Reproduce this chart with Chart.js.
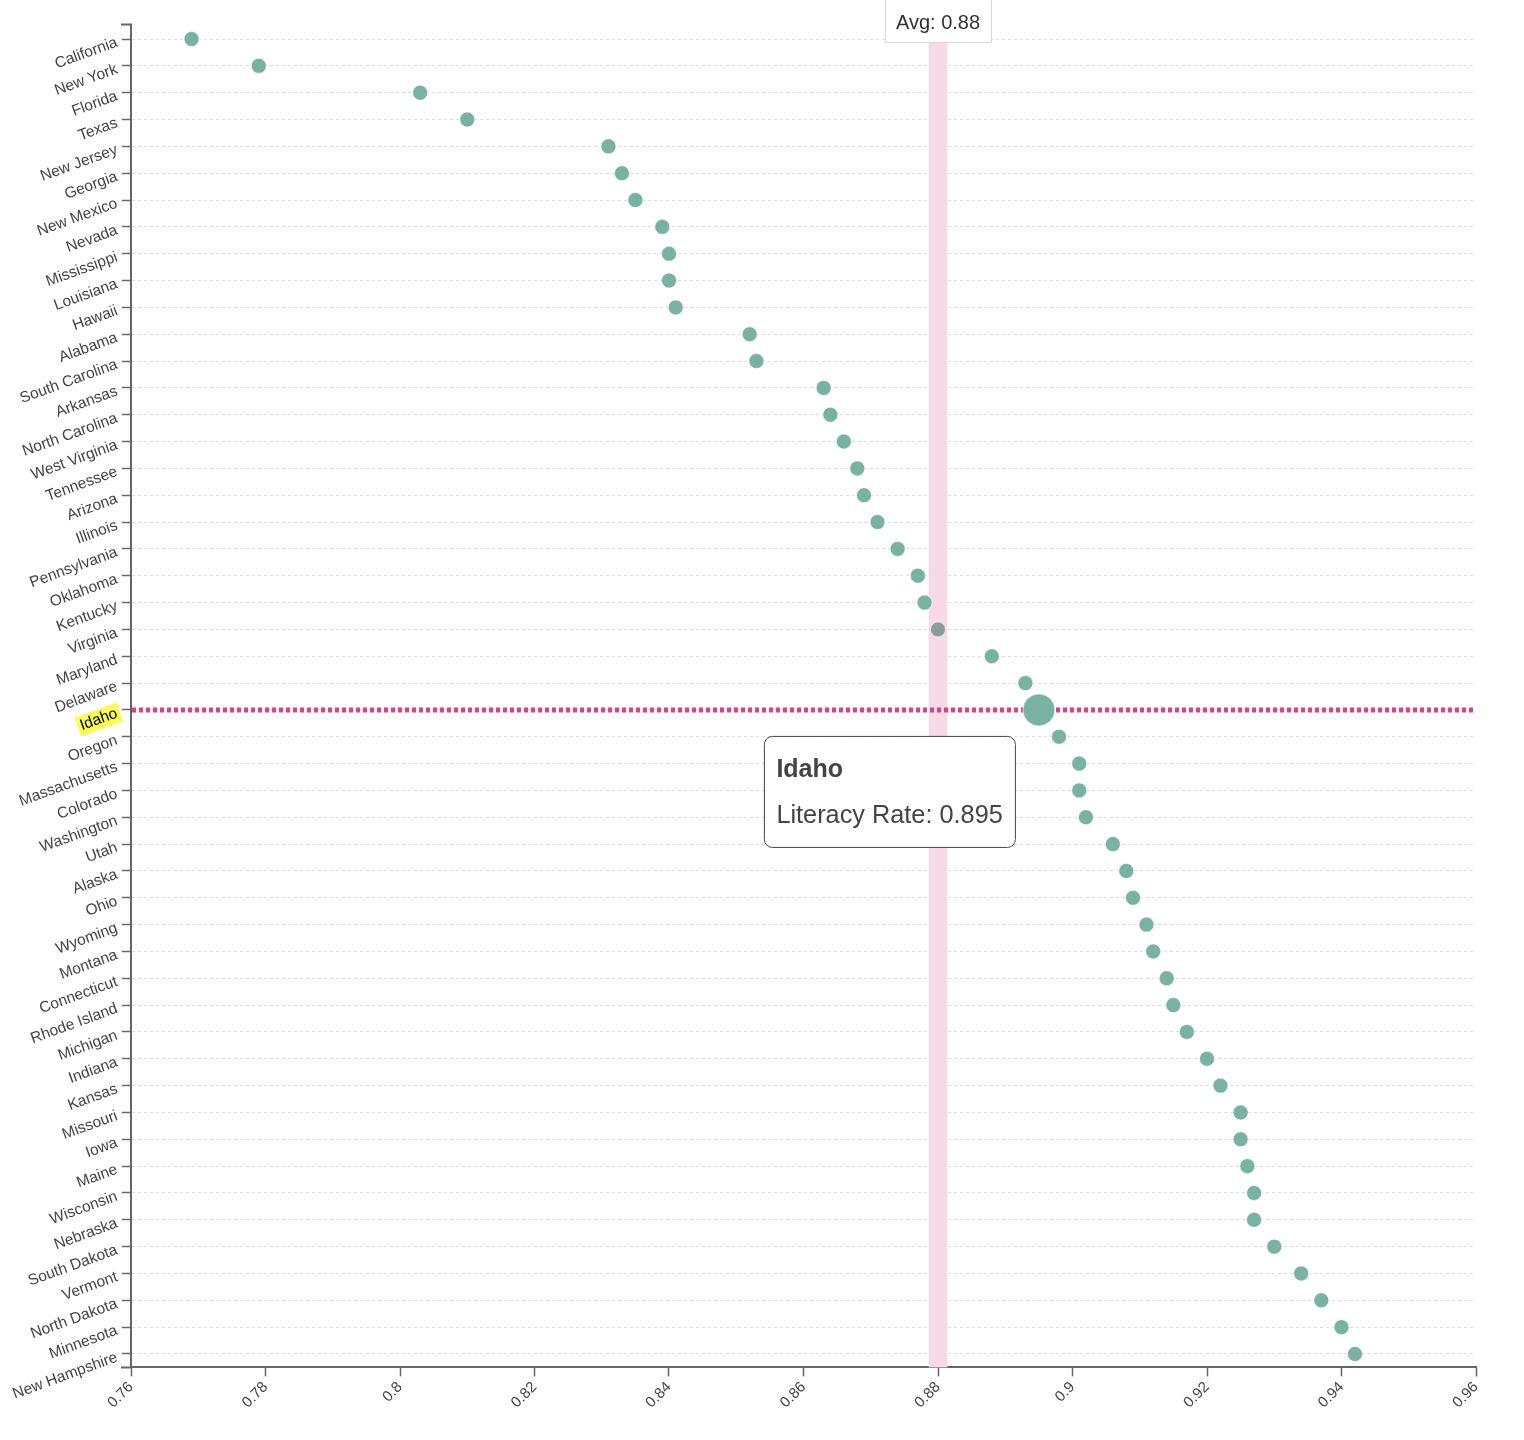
<!DOCTYPE html>
<html>
<head>
<meta charset="utf-8">
<title>Literacy Rate by State</title>
<script src="https://cdn.jsdelivr.net/npm/chart.js@4.4.1/dist/chart.umd.min.js"></script>
<style>
  html, body { margin: 0; padding: 0; background: #fff; }
  #wrap { width: 1524px; height: 1440px; position: relative; }
</style>
</head>
<body>
<div id="wrap"><canvas id="chart"></canvas></div>
<script>
// states, sorted from lowest to highest literacy rate
const states = [
  "California", "New York", "Florida", "Texas", "New Jersey", "Georgia", "New Mexico",
  "Nevada", "Mississippi", "Louisiana", "Hawaii", "Alabama", "South Carolina", "Arkansas",
  "North Carolina", "West Virginia", "Tennessee", "Arizona", "Illinois", "Pennsylvania",
  "Oklahoma", "Kentucky", "Virginia", "Maryland", "Delaware", "Idaho", "Oregon",
  "Massachusetts", "Colorado", "Washington", "Utah", "Alaska", "Ohio", "Wyoming", "Montana",
  "Connecticut", "Rhode Island", "Michigan", "Indiana", "Kansas", "Missouri", "Iowa",
  "Maine", "Wisconsin", "Nebraska", "South Dakota", "Vermont", "North Dakota", "Minnesota",
  "New Hampshire"
];

const literacyRates = [
  0.769, 0.779, 0.803, 0.810, 0.831, 0.833, 0.835,
  0.839, 0.840, 0.840, 0.841, 0.852, 0.853, 0.863,
  0.864, 0.866, 0.868, 0.869, 0.871, 0.874,
  0.877, 0.878, 0.880, 0.888, 0.893, 0.895, 0.898,
  0.901, 0.901, 0.902, 0.906, 0.908, 0.909, 0.911, 0.912,
  0.914, 0.915, 0.917, 0.920, 0.922, 0.925, 0.925,
  0.926, 0.927, 0.927, 0.930, 0.934, 0.937, 0.940,
  0.942
];

const xTicks = [0.76, 0.78, 0.8, 0.82, 0.84, 0.86, 0.88, 0.9, 0.92, 0.94, 0.96];

const avgRate = 0.88;
const highlightState = "Idaho";
const nearAvgState = "Virginia";

const dotColor = "#79b2a2";
const greyDot = "#8b9d9b";
const pink = "#d9418a";
const labelFont = "'Liberation Sans', Arial, Helvetica, sans-serif";
const yLabelSize = 15.5;
const yLabelShift = 3;

const overlayPlugin = {
  id: 'overlayPlugin',
  beforeDraw(chart) {
    // yellow marker behind the highlighted tick label
    const ctx = chart.ctx;
    const yScale = chart.scales.y;
    const idx = states.indexOf(highlightState);
    const y = yScale.getPixelForValue(idx) + yLabelShift;
    const x = yScale.right - 9 - 5;
    ctx.save();
    ctx.font = yLabelSize + "px " + labelFont;
    const w = ctx.measureText(highlightState).width;
    ctx.translate(x, y);
    ctx.rotate(-20 * Math.PI / 180);
    ctx.fillStyle = "#fbfb57";
    ctx.fillRect(-w - 3, -10, w + 6, 20);
    ctx.restore();
  },
  beforeDatasetsDraw(chart) {
    const ctx = chart.ctx;
    const area = chart.chartArea;
    const xScale = chart.scales.x;
    const yScale = chart.scales.y;

    // average band
    const ax = xScale.getPixelForValue(avgRate);
    ctx.save();
    ctx.fillStyle = "#f8d9e8";
    ctx.fillRect(ax - 9.3, area.top, 18.6, area.bottom - area.top);

    // dotted line on the highlighted state
    const hy = yScale.getPixelForValue(states.indexOf(highlightState));
    ctx.beginPath();
    ctx.moveTo(area.left + 1, hy);
    ctx.lineTo(area.right, hy);
    ctx.lineWidth = 5;
    ctx.strokeStyle = pink;
    ctx.setLineDash([4, 3]);
    ctx.stroke();
    ctx.restore();
  },
  afterDraw(chart) {
    const ctx = chart.ctx;
    const area = chart.chartArea;
    const xScale = chart.scales.x;
    const yScale = chart.scales.y;

    // outer ticks at both ends of the y axis
    ctx.save();
    ctx.strokeStyle = "#666";
    ctx.lineWidth = 2;
    ctx.beginPath();
    ctx.moveTo(area.left - 10, area.top - 1);
    ctx.lineTo(area.left + 1, area.top - 1);
    ctx.moveTo(area.left - 10, area.bottom);
    ctx.lineTo(area.left, area.bottom);
    ctx.stroke();
    ctx.restore();

    // average label
    const ax = xScale.getPixelForValue(avgRate);
    ctx.save();
    ctx.fillStyle = "#fff";
    ctx.strokeStyle = "#d8d8d8";
    ctx.lineWidth = 1;
    ctx.fillRect(ax - 53, -4, 106, 46);
    ctx.strokeRect(ax - 52.5, -4, 106, 46.5);
    ctx.fillStyle = "#333";
    ctx.font = "20px " + labelFont;
    ctx.textAlign = "center";
    ctx.textBaseline = "middle";
    ctx.fillText("Avg: " + avgRate, ax, 23);
    ctx.restore();

    // static tooltip for the highlighted state
    const idx = states.indexOf(highlightState);
    const px = xScale.getPixelForValue(literacyRates[idx]);
    const py = yScale.getPixelForValue(idx);
    const left = px - 274.5, top = py + 26.5, w = 251, h = 111;
    ctx.save();
    ctx.beginPath();
    ctx.roundRect(left, top, w, h, 8);
    ctx.fillStyle = "#fff";
    ctx.fill();
    ctx.strokeStyle = "#444";
    ctx.lineWidth = 1;
    ctx.stroke();
    ctx.fillStyle = "#444";
    ctx.textAlign = "left";
    ctx.textBaseline = "middle";
    ctx.font = "bold 25px " + labelFont;
    ctx.fillText(highlightState, left + 12, top + 34);
    ctx.font = "25.3px " + labelFont;
    ctx.fillText("Literacy Rate: " + literacyRates[idx], left + 12, top + 80);
    ctx.restore();
  }
};

const pointColors = states.map(s => s === nearAvgState ? greyDot : dotColor);
const pointSizes = states.map(s => s === highlightState ? 16 : 7.5);

new Chart(document.getElementById("chart"), {
  type: "scatter",
  data: {
    datasets: [{
      label: "Literacy Rate",
      data: states.map((s, i) => ({ x: literacyRates[i], y: s })),
      pointBackgroundColor: pointColors,
      pointBorderColor: "rgba(255,255,255,0.6)",
      pointBorderWidth: 1,
      pointRadius: pointSizes
    }]
  },
  options: {
    responsive: true,
    maintainAspectRatio: false,
    animation: false,
    events: [],
    layout: {
      padding: { left: 0, right: 48, top: 25.6, bottom: 0 }
    },
    plugins: {
      legend: { display: false },
      tooltip: { enabled: false }
    },
    scales: {
      x: {
        type: "linear",
        min: 0.76,
        max: 0.96,
        afterFit: (scale) => { scale.height = 72.6; },
        afterBuildTicks: (scale) => { scale.ticks = xTicks.map(v => ({ value: v })); },
        ticks: {
          minRotation: 45,
          maxRotation: 45,
          padding: 2,
          color: "#444",
          font: { family: labelFont, size: 15 },
          callback: (v) => String(+v.toFixed(2))
        },
        grid: {
          drawOnChartArea: false,
          drawTicks: true,
          tickLength: 9,
          tickColor: "#666",
          tickWidth: 1.5
        },
        border: { color: "#666", width: 2 }
      },
      y: {
        type: "category",
        labels: states,
        offset: true,
        afterFit: (scale) => { scale.width = 131; },
        ticks: {
          autoSkip: false,
          minRotation: 20,
          maxRotation: 20,
          padding: 5,
          labelOffset: yLabelShift,
          color: (c) => states[c.index] === highlightState ? "#000" : "#444",
          font: { family: labelFont, size: yLabelSize }
        },
        grid: {
          offset: false,
          color: "#dcdcdc",
          lineWidth: 1,
          tickLength: 9,
          tickColor: "#666",
          tickWidth: 1.5,
          tickBorderDash: []
        },
        border: { color: "#666", width: 2, dash: [3, 3] }
      }
    }
  },
  plugins: [overlayPlugin]
});
</script>
</body>
</html>
